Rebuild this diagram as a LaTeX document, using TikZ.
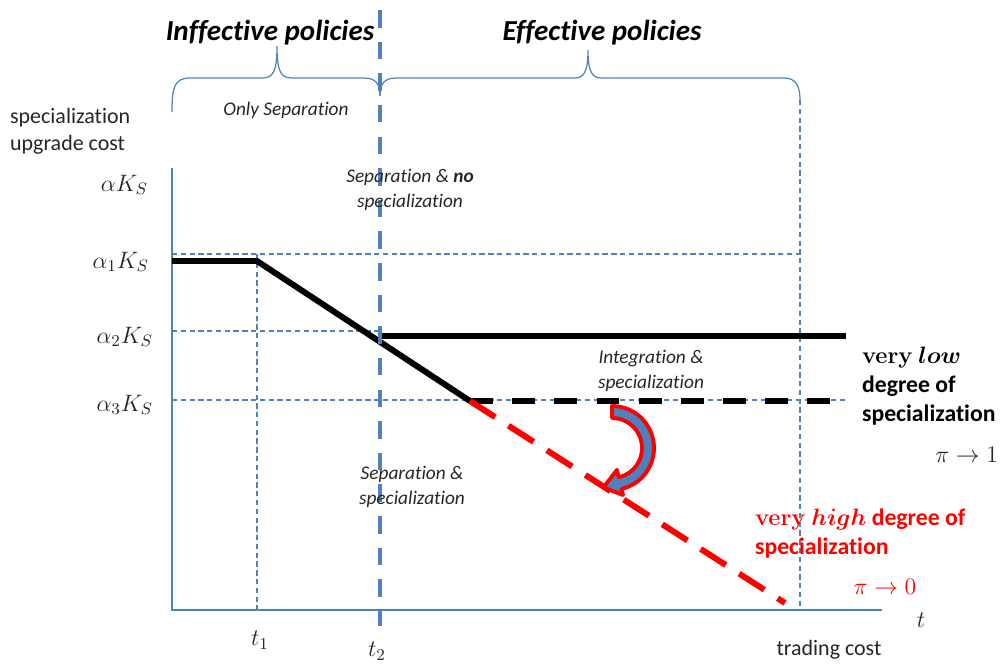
\RequirePackage{fix-cm}
\documentclass[tikz,border=0pt]{standalone}
\usepackage{amsmath,amssymb}
\usepackage[no-math]{fontspec}
\setmainfont{Carlito}[Ligatures={NoCommon,NoContextual}]
\usepackage{xcolor}
\usepackage{tikz}
\usetikzlibrary{positioning}
\definecolor{axisblue}{RGB}{79,129,189}
\definecolor{inkgray}{RGB}{38,38,38}

\begin{document}
\begin{tikzpicture}[x=0.02cm, y=-0.02cm, every node/.style={inner sep=1pt, align=center, text=inkgray},
		axis/.style={axisblue, line width=1.3pt},
		guide/.style={axisblue, line width=0.6pt, dash pattern=on 3pt off 2pt},
		border/.style={axisblue, line width=2.4pt, dash pattern=on 10pt off 8pt},
		brace/.style={axisblue, line width=0.7pt},
		cost/.style={line width=3.4pt},
		costdash/.style={line width=3.4pt, dash pattern=on 13pt off 11pt},
		drop/.style={red, line width=3.4pt, dash pattern=on 17pt off 9pt},
		title/.style={font=\bfseries\itshape\fontsize{16.5}{19}\selectfont, text=black},
		zone/.style={font=\itshape\fontsize{11}{14}\selectfont},
		lev/.style={anchor=east, font=\fontsize{13.5}{15}\selectfont},
		side/.style={anchor=west, align=left, font=\bfseries\fontsize{13.5}{16.5}\selectfont, text=black}]
		\useasboundingbox (0,0) rectangle (1002,664);
		% key points
		\coordinate (O) at (172,610);
		\coordinate (ytop) at (172,168);
		\coordinate (xend) at (882,610);
		\coordinate (k0) at (172,261);
		\coordinate (k1) at (257,261);
		\coordinate (k2) at (470,401);
		\coordinate (h2) at (378,336);
		\coordinate (h2e) at (846,336);
		\coordinate (h3e) at (846,401);
		\coordinate (rend) at (785,603);
		% guides
		\draw[guide] (172,254) -- (800,254);
		\draw[guide] (172,331) -- (380,331);
		\draw[guide] (172,400) -- (846,400);
		\draw[guide] (257,254) -- (257,610);
		\draw[guide] (800,100) -- (800,610);
		% braces
		\draw[brace] (172,112) .. controls (172,88) and (174,78) .. (190,78) -- (262,78) .. controls (273,78) and (277,72) .. (277,46) .. controls (277,72) and (281,78) .. (292,78) -- (364,78) .. controls (376,78) and (380,84) .. (380,96);
		\draw[brace] (380,96) .. controls (380,84) and (384,78) .. (396,78) -- (574,78) .. controls (584,78) and (588,72) .. (588,50) .. controls (588,72) and (592,78) .. (602,78) -- (784,78) .. controls (796,78) and (800,86) .. (800,100);
		% axes
		\draw[axis] (ytop) -- (O) -- (xend);
		% cost lines
		\draw[cost] (k0) -- (k1) -- (k2);
		\draw[cost] (h2) -- (h2e);
		\draw[costdash] (k2) -- (h3e);
		\draw[drop] (k2) -- (rend);
		\draw[border] (380,10) -- (380,626);
		% curved arrow
		\filldraw[draw=red, fill=axisblue, line width=2.2pt, line join=round] plot[domain=-90:77, samples=40] ({612+42*cos(\x)},{448+42*sin(\x)}) -- (623.0,495.0) -- (603.5,487.5) -- (616.9,469.9) -- plot[domain=77:-90, samples=40] ({612+30*cos(\x)},{448+30*sin(\x)}) -- cycle;
		% labels
		\node[title] (ineff) at (270,33) {Inffective policies};
		\node[title] (eff) at (602,33) {Effective policies};
		\node[zone] (only) at (286,110) {Only Separation};
		\node[zone] (sepno) at (410,190) {Separation \& \textbf{no}\\specialization};
		\node[zone] (intspec) at (651,371) {Integration \&\\specialization};
		\node[zone] (sepspec) at (412,487) {Separation \&\\specialization};
		\node[anchor=west, align=left, font=\fontsize{12.5}{15.5}\selectfont] (ylab) at (8,131) {specialization\\upgrade cost};
		\node[lev] (lk) at (150,185) {$\alpha K_S$};
		\node[lev] (lk1) at (151,262) {$\alpha_1 K_S$};
		\node[lev] (lk2) at (155,337) {$\alpha_2 K_S$};
		\node[lev] (lk3) at (155,405) {$\alpha_3 K_S$};
		\node[side] (low) at (860,386) {$\mathbf{very}$ $\boldsymbol{low}$\\degree of\\specialization};
		\node[anchor=east, font=\fontsize{13.5}{15}\selectfont] (pi1) at (1000,455) {$\pi\rightarrow 1$};
		\node[side, text=red] (high) at (753,534) {$\mathbf{very}$ $\boldsymbol{high}$ degree of\\specialization};
		\node[text=red, font=\fontsize{13.5}{15}\selectfont] (pi0) at (885,587) {$\pi\rightarrow 0$};
		\node[font=\fontsize{13.5}{15}\selectfont] (tlab) at (921,620) {$t$};
		\node[font=\fontsize{12.5}{15}\selectfont] (trade) at (829,650) {trading cost};
		\node[font=\fontsize{13.5}{15}\selectfont] (t1) at (260,640) {$t_1$};
		\node[font=\fontsize{13.5}{15}\selectfont] (t2) at (377,651) {$t_2$};
	\end{tikzpicture}
\end{document}
